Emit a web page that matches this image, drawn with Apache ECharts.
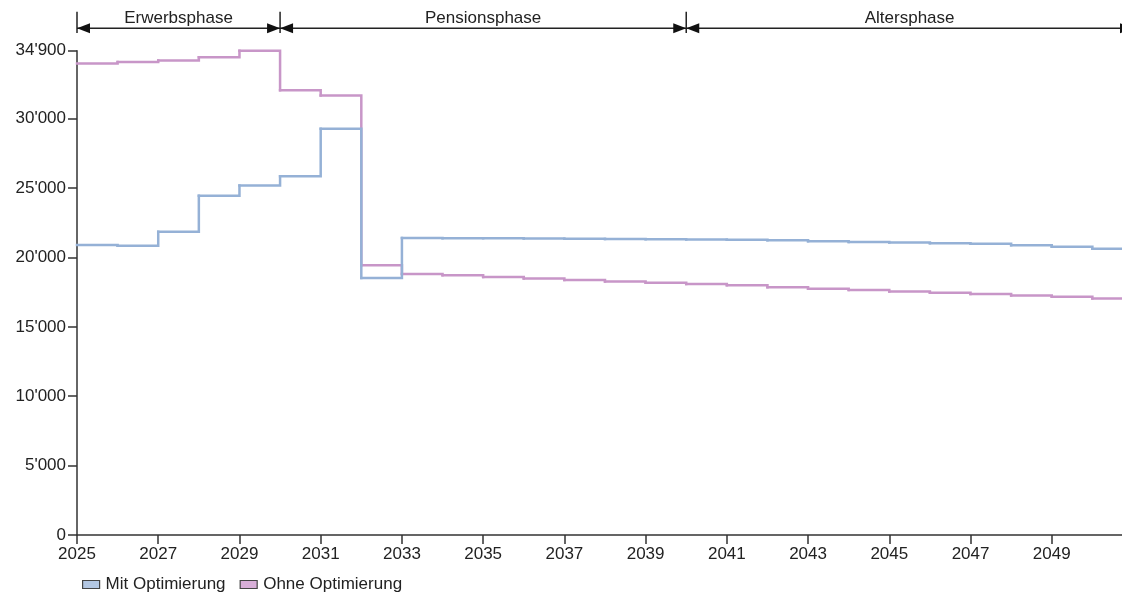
<!DOCTYPE html>
<html>
<head>
<meta charset="utf-8">
<script src="https://cdn.jsdelivr.net/npm/echarts@6/dist/echarts.min.js"></script>
<style>
html,body{margin:0;padding:0;background:#fff;}
#chart{width:1122px;height:596px;}
</style>
</head>
<body>
<div id="chart"></div>
<script>
var years = [2025,2026,2027,2028,2029,2030,2031,2032,2033,2034,2035,2036,2037,2038,2039,2040,2041,2042,2043,2044,2045,2046,2047,2048,2049,2050];
var mitOptimierung = [20900,20850,21850,24450,25180,25850,29270,18520,21400,21390,21380,21370,21350,21330,21320,21300,21270,21240,21170,21120,21070,21020,20980,20875,20780,20635];
var ohneOptimierung = [33980,34080,34200,34420,34900,32050,31670,19430,18810,18710,18590,18490,18375,18275,18180,18090,17990,17850,17750,17655,17555,17460,17365,17265,17170,17050];
var seriesNames = ['Mit Optimierung','Ohne Optimierung'];
var xTickLabels = [2025,2027,2029,2031,2033,2035,2037,2039,2041,2043,2045,2047,2049];
var yTickLabels = [0,5000,10000,15000,20000,25000,30000,34900];
var phaseNames = ['Erwerbsphase','Pensionsphase','Altersphase'];
var phaseStarts = [2025,2030,2040];
var phaseEnds = [2030,2040,2051];

var FONT = '"Liberation Sans", Arial, sans-serif';
var FS = 17;
var TXT = '#222';
var blue = '#95b1d6', purple = '#c896c8';

// each item: [year, value, nextYear, nextValue]
function stepItems(vals){
  return years.map(function(y,i){
    var last = i === years.length-1;
    return [y, vals[i], last ? y+1 : years[i+1], last ? vals[i] : vals[i+1]];
  });
}
function fmt(v){
  var s = String(Math.round(v));
  return s.replace(/\B(?=(\d{3})+(?!\d))/g, "'");
}
function makeRender(color){
  return function(params, api){
    var p0 = api.coord([api.value(0), api.value(1)]);
    var p1 = api.coord([api.value(2), api.value(1)]);
    var p2 = api.coord([api.value(2), api.value(3)]);
    return {type:'polyline', shape:{points:[p0,p1,p2]},
      style:{stroke:color, lineWidth:2.5, fill:null, lineCap:'square', lineJoin:'miter'}};
  };
}

var chart = echarts.init(document.getElementById('chart'), null, {renderer:'canvas'});
chart.setOption({
  animation:false,
  backgroundColor:'#fff',
  grid:{left:77, top:50.7, width:1056, height:484.3, containLabel:false, outerBoundsMode:'none'},
  xAxis:{
    type:'value', min:2025, max:2051,
    axisLine:{show:true, lineStyle:{color:'#333', width:1.5}},
    axisTick:{show:true, customValues:xTickLabels, length:9, lineStyle:{color:'#333', width:1.5}},
    axisLabel:{customValues:xTickLabels, color:TXT, fontFamily:FONT, fontSize:FS, margin:11, formatter:function(v){return String(v);}},
    splitLine:{show:false}
  },
  yAxis:{
    type:'value', min:0, max:34900,
    axisLine:{show:true, lineStyle:{color:'#333', width:1.5}},
    axisTick:{show:true, customValues:yTickLabels, length:9, lineStyle:{color:'#333', width:1.5}},
    axisLabel:{customValues:yTickLabels, color:TXT, fontFamily:FONT, fontSize:FS, margin:11, formatter:fmt},
    splitLine:{show:false}
  },
  legend:{
    left:77, top:571, icon:'rect', itemWidth:17, itemHeight:8, itemGap:14,
    textStyle:{color:TXT, fontFamily:FONT, fontSize:FS, padding:[0,0,0,1]},
    data:[
      {name:seriesNames[0], itemStyle:{color:'#b3c7e3', borderColor:'#444', borderWidth:1.2}},
      {name:seriesNames[1], itemStyle:{color:'#d8aed8', borderColor:'#444', borderWidth:1.2}}
    ]
  },
  series:[
    {name:seriesNames[0], type:'custom', renderItem:makeRender(blue), color:blue,
     encode:{x:[0,2], y:[1,3]}, data:stepItems(mitOptimierung), clip:false, z:3},
    {name:seriesNames[1], type:'custom', renderItem:makeRender(purple), color:purple,
     encode:{x:[0,2], y:[1,3]}, data:stepItems(ohneOptimierung), clip:false, z:2}
  ]
});

function px(year){ return chart.convertToPixel({xAxisIndex:0}, year); }
var g = [];
var LY = 28.3, TT = 11.7, TB = 33, AL = 13, AH = 5;
var bounds = {};
phaseStarts.concat(phaseEnds).forEach(function(b){ bounds[b] = true; });
Object.keys(bounds).forEach(function(b){
  var x = px(Number(b));
  g.push({type:'line', shape:{x1:x, y1:TT, x2:x, y2:TB}, style:{stroke:'#222', lineWidth:1.5}, z:10});
});
phaseNames.forEach(function(name, i){
  var x1 = px(phaseStarts[i]), x2 = px(phaseEnds[i]);
  g.push({type:'line', shape:{x1:x1, y1:LY, x2:x2, y2:LY}, style:{stroke:'#222', lineWidth:1.5}, z:10});
  g.push({type:'polygon', shape:{points:[[x1,LY],[x1+AL,LY-AH],[x1+AL,LY+AH]]}, style:{fill:'#111'}, z:11});
  g.push({type:'polygon', shape:{points:[[x2,LY],[x2-AL,LY-AH],[x2-AL,LY+AH]]}, style:{fill:'#111'}, z:11});
  g.push({type:'text', x:(x1+x2)/2, y:18, style:{text:name, fill:TXT, font:FS+'px '+FONT, align:'center', verticalAlign:'middle'}, z:12});
});
chart.setOption({graphic:g});
</script>
</body>
</html>
